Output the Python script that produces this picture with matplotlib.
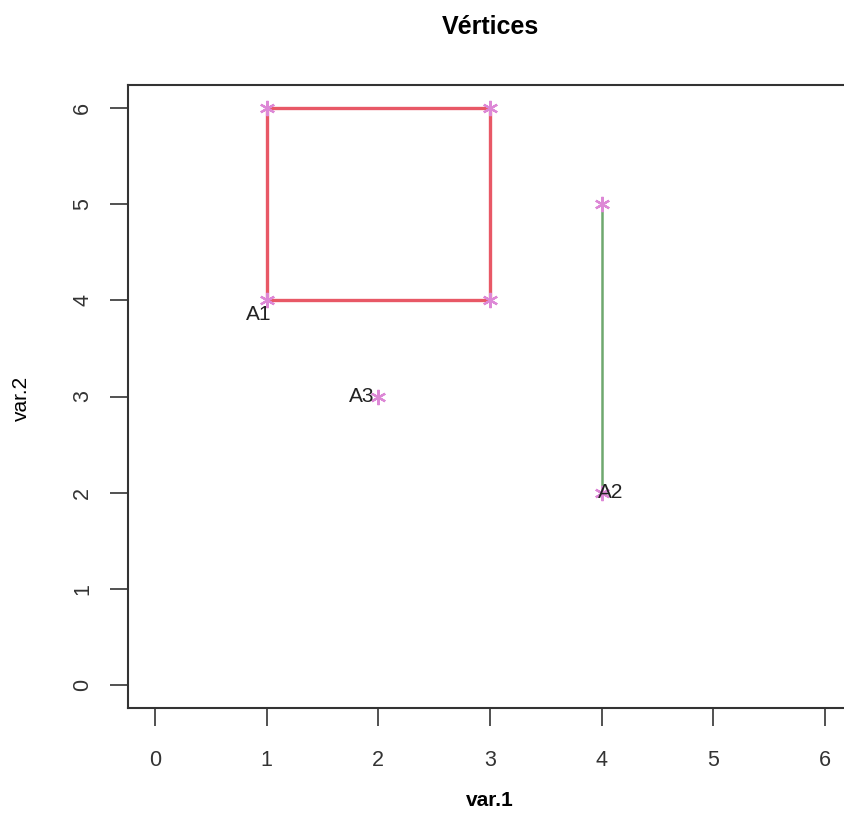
import matplotlib
matplotlib.use("Agg")
import matplotlib.pyplot as plt

plt.rcParams['font.family'] = ['Liberation Sans', 'DejaVu Sans']

# vertices of each element
a1_x = [1, 3, 3, 1, 1]
a1_y = [4, 4, 6, 6, 4]
a2_x = [4, 4]
a2_y = [5, 2]
a3_x = [2]
a3_y = [3]

labels = ["A1", "A2", "A3"]
label_x = [1, 4, 2]
label_y = [4, 2, 3]

ticks = [0, 1, 2, 3, 4, 5, 6]

fig = plt.figure(figsize=(8.45, 8.31), dpi=100)
ax = fig.add_axes([0.1515, 0.148, 0.8565, 0.7497])

ax.plot(a1_x, a1_y, color="#e85866", lw=2.4, zorder=2)
ax.plot(a2_x, a2_y, color="#6fa86f", lw=1.8, zorder=2)

for xs, ys in [(a1_x[:4], a1_y[:4]), (a2_x, a2_y), (a3_x, a3_y)]:
    ax.plot(xs, ys, marker=(6, 2, 0), ls="none", color="#dd88d6",
            ms=11, mew=1.6, zorder=3)

# labels next to the points
ax.text(label_x[0] - 0.07, label_y[0] - 0.05, labels[0], fontsize=15,
        ha="center", va="top", color="#222222")
ax.text(label_x[1] - 0.03, label_y[1], labels[1], fontsize=15,
        ha="left", va="center", color="#222222")
ax.text(label_x[2] - 0.03, label_y[2], labels[2], fontsize=15,
        ha="right", va="center", color="#222222")

ax.set_xlim(-0.24, 6.24)
ax.set_ylim(-0.24, 6.24)
ax.set_xticks(ticks)
ax.set_yticks(ticks)
ax.tick_params(direction="out", length=13, width=1.2, colors="#333333",
               labelsize=15.5)
ax.tick_params(axis="x", pad=17)
ax.tick_params(axis="y", pad=12)
for lab in ax.get_yticklabels():
    lab.set_rotation(90)
    lab.set_va("center")
for s in ax.spines.values():
    s.set_color("#333333")
    s.set_linewidth(1.5)

fig.text(0.58, 0.967, "Vértices", fontsize=18, fontweight="bold",
         ha="center", va="center")
fig.text(0.58, 0.037, "var.1", fontsize=15, fontweight="bold",
         ha="center", va="center")
fig.text(0.025, 0.52, "var.2", fontsize=15, rotation=90,
         ha="center", va="center")

fig.savefig("out.png", dpi=100)
